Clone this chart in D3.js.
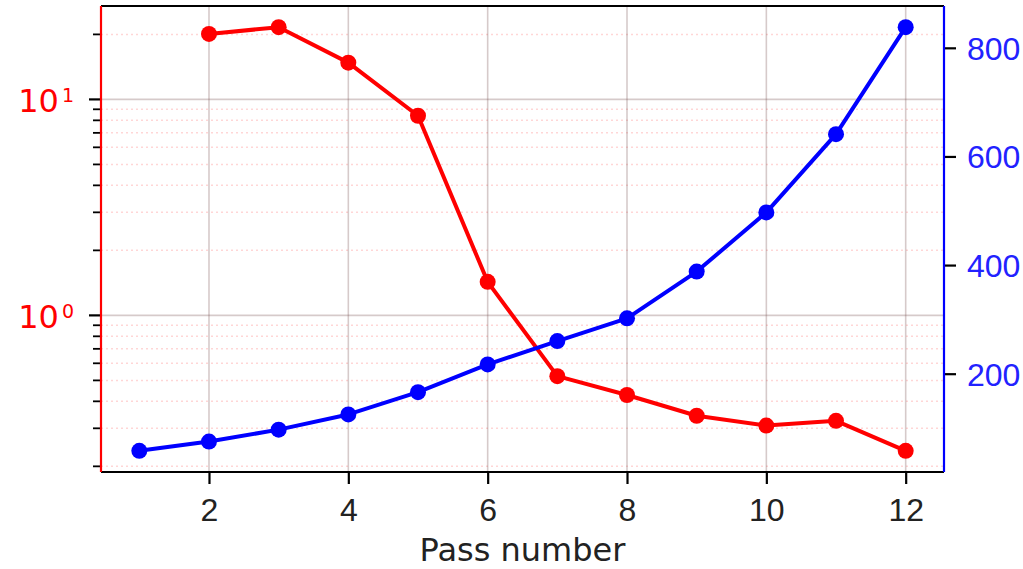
<!DOCTYPE html>
<html>
<head>
<meta charset="utf-8">
<script src="https://cdn.jsdelivr.net/npm/d3@7"></script>
<style>
	body { margin: 0; background: #fff; }
	svg { font-family: 'DejaVu Sans', sans-serif; }
</style>
</head>
<body>
<div id="chart"></div>
<script>
// pass numbers
let passes = [1, 2, 3, 4, 5, 6, 7, 8, 9, 10, 11, 12];
// left axis (log), no value for pass 1
let redPasses = [2, 3, 4, 5, 6, 7, 8, 9, 10, 11, 12];
let redValues = [20.1, 21.6, 14.8, 8.4, 1.43, 0.523, 0.428, 0.343, 0.309, 0.325, 0.236];
// right axis (linear)
let blueValues = [58, 75, 97, 125, 166, 217, 260, 302, 388, 497, 641, 838];
let xTicks = [2, 4, 6, 8, 10, 12];
let rightTicks = [200, 400, 600, 800];
let leftExponents = [0, 1];

let margin = { top: 6, right: 79, bottom: 97, left: 101 };
let W = 1023, H = 569;
let width  = W - margin.left - margin.right;
let height = H - margin.top - margin.bottom;

// matplotlib-like 5% padding
function pad(lo, hi) {
	let d = (hi - lo) * 0.05;
	return [lo - d, hi + d];
}

let x = d3.scaleLinear().domain(pad(1, 12)).range([0, width]);
let logExt = d3.extent(redValues).map(Math.log10);
let yL = d3.scaleLog().domain(pad(logExt[0], logExt[1]).map(v => Math.pow(10, v))).range([height, 0]);
let yR = d3.scaleLinear().domain(pad(d3.min(blueValues), d3.max(blueValues))).range([height, 0]);

let svg = d3.select('#chart')
	.append('svg')
		.attr('width', W)
		.attr('height', H)
	.append('g')
		.attr('transform', 'translate(' + margin.left + ',' + margin.top + ')');

// minor log ticks
let minorTicks = [];
[-1, 0, 1].forEach(e => {
	for (let k = 2; k <= 9; k++) {
		let v = k * Math.pow(10, e);
		if (v >= yL.domain()[0] && v <= yL.domain()[1]) minorTicks.push(v);
	}
});
let majorTicks = leftExponents.map(e => Math.pow(10, e));

// grid
svg.append('g').selectAll('line')
	.data(minorTicks)
	.enter().append('line')
		.attr('x1', 0).attr('x2', width)
		.attr('y1', d => yL(d)).attr('y2', d => yL(d))
		.attr('stroke', 'rgba(255,0,0,0.16)')
		.attr('stroke-width', 1.5)
		.attr('stroke-dasharray', '2,3');

svg.append('g').selectAll('line')
	.data(majorTicks)
	.enter().append('line')
		.attr('x1', 0).attr('x2', width)
		.attr('y1', d => yL(d)).attr('y2', d => yL(d))
		.attr('stroke', 'rgba(120,80,80,0.3)')
		.attr('stroke-width', 1.6);

svg.append('g').selectAll('line')
	.data(xTicks)
	.enter().append('line')
		.attr('x1', d => x(d)).attr('x2', d => x(d))
		.attr('y1', 0).attr('y2', height)
		.attr('stroke', 'rgba(120,80,80,0.3)')
		.attr('stroke-width', 1.6);

// series
let redLine = d3.line()
	.x((d, i) => x(redPasses[i]))
	.y(d => yL(d));
let blueLine = d3.line()
	.x((d, i) => x(passes[i]))
	.y(d => yR(d));

svg.append('path')
	.attr('d', redLine(redValues))
	.attr('fill', 'none')
	.attr('stroke', 'red')
	.attr('stroke-width', 4)
	.attr('stroke-linejoin', 'round');
svg.append('g').selectAll('circle')
	.data(redValues)
	.enter().append('circle')
		.attr('cx', (d, i) => x(redPasses[i]))
		.attr('cy', d => yL(d))
		.attr('r', 8)
		.attr('fill', 'red');

svg.append('path')
	.attr('d', blueLine(blueValues))
	.attr('fill', 'none')
	.attr('stroke', 'blue')
	.attr('stroke-width', 4)
	.attr('stroke-linejoin', 'round');
svg.append('g').selectAll('circle')
	.data(blueValues)
	.enter().append('circle')
		.attr('cx', (d, i) => x(passes[i]))
		.attr('cy', d => yR(d))
		.attr('r', 8)
		.attr('fill', 'blue');

// axes
let fs = 32;

let xAxis = d3.axisBottom(x).tickValues(xTicks).tickSize(12).tickPadding(14).tickFormat(d3.format('d'));
let gx = svg.append('g')
	.attr('transform', 'translate(0,' + height + ')')
	.call(xAxis);
gx.select('.domain').remove();
gx.selectAll('.tick line').attr('stroke', '#000').attr('stroke-width', 2.2);
gx.selectAll('.tick text').attr('fill', '#222').attr('dy', '0.729em').style('font-size', fs + 'px');

let yRAxis = d3.axisRight(yR).tickValues(rightTicks).tickSize(12).tickPadding(11);
let gr = svg.append('g')
	.attr('transform', 'translate(' + width + ',0)')
	.call(yRAxis);
gr.select('.domain').remove();
gr.selectAll('.tick line').attr('stroke', '#000').attr('stroke-width', 2.2);
gr.selectAll('.tick text').attr('fill', '#2222ff').attr('dy', '0.36em').style('font-size', fs + 'px');

let gl = svg.append('g');
gl.selectAll('line.minor')
	.data(minorTicks)
	.enter().append('line')
		.attr('class', 'minor')
		.attr('x1', -8).attr('x2', 0)
		.attr('y1', d => yL(d)).attr('y2', d => yL(d))
		.attr('stroke', '#000').attr('stroke-width', 1.8);
gl.selectAll('line.major')
	.data(majorTicks)
	.enter().append('line')
		.attr('class', 'major')
		.attr('x1', -12).attr('x2', 0)
		.attr('y1', d => yL(d)).attr('y2', d => yL(d))
		.attr('stroke', '#000').attr('stroke-width', 2.2);
let lbl = gl.selectAll('text')
	.data(leftExponents)
	.enter().append('text')
		.attr('x', -27)
		.attr('y', d => yL(Math.pow(10, d)) + 13)
		.attr('text-anchor', 'end')
		.attr('fill', 'red')
		.style('font-size', fs + 'px');
lbl.append('tspan').text('10');
lbl.append('tspan')
	.attr('dx', 3)
	.attr('dy', -10)
	.style('font-size', Math.round(fs * 0.6) + 'px')
	.text(d => d);

// spines
svg.append('line').attr('x1', 0).attr('x2', width).attr('y1', 0).attr('y2', 0)
	.attr('stroke', '#000').attr('stroke-width', 2.2);
svg.append('line').attr('x1', 0).attr('x2', width).attr('y1', height).attr('y2', height)
	.attr('stroke', '#000').attr('stroke-width', 2.2);
svg.append('line').attr('x1', 0).attr('x2', 0).attr('y1', 0).attr('y2', height)
	.attr('stroke', 'red').attr('stroke-width', 2.2);
svg.append('line').attr('x1', width).attr('x2', width).attr('y1', 0).attr('y2', height)
	.attr('stroke', 'blue').attr('stroke-width', 2.2);

// x label
svg.append('text')
	.attr('x', width / 2)
	.attr('y', height + 89)
	.attr('text-anchor', 'middle')
	.attr('fill', '#222')
	.style('font-size', fs + 'px')
	.text('Pass number');
</script>
</body>
</html>
